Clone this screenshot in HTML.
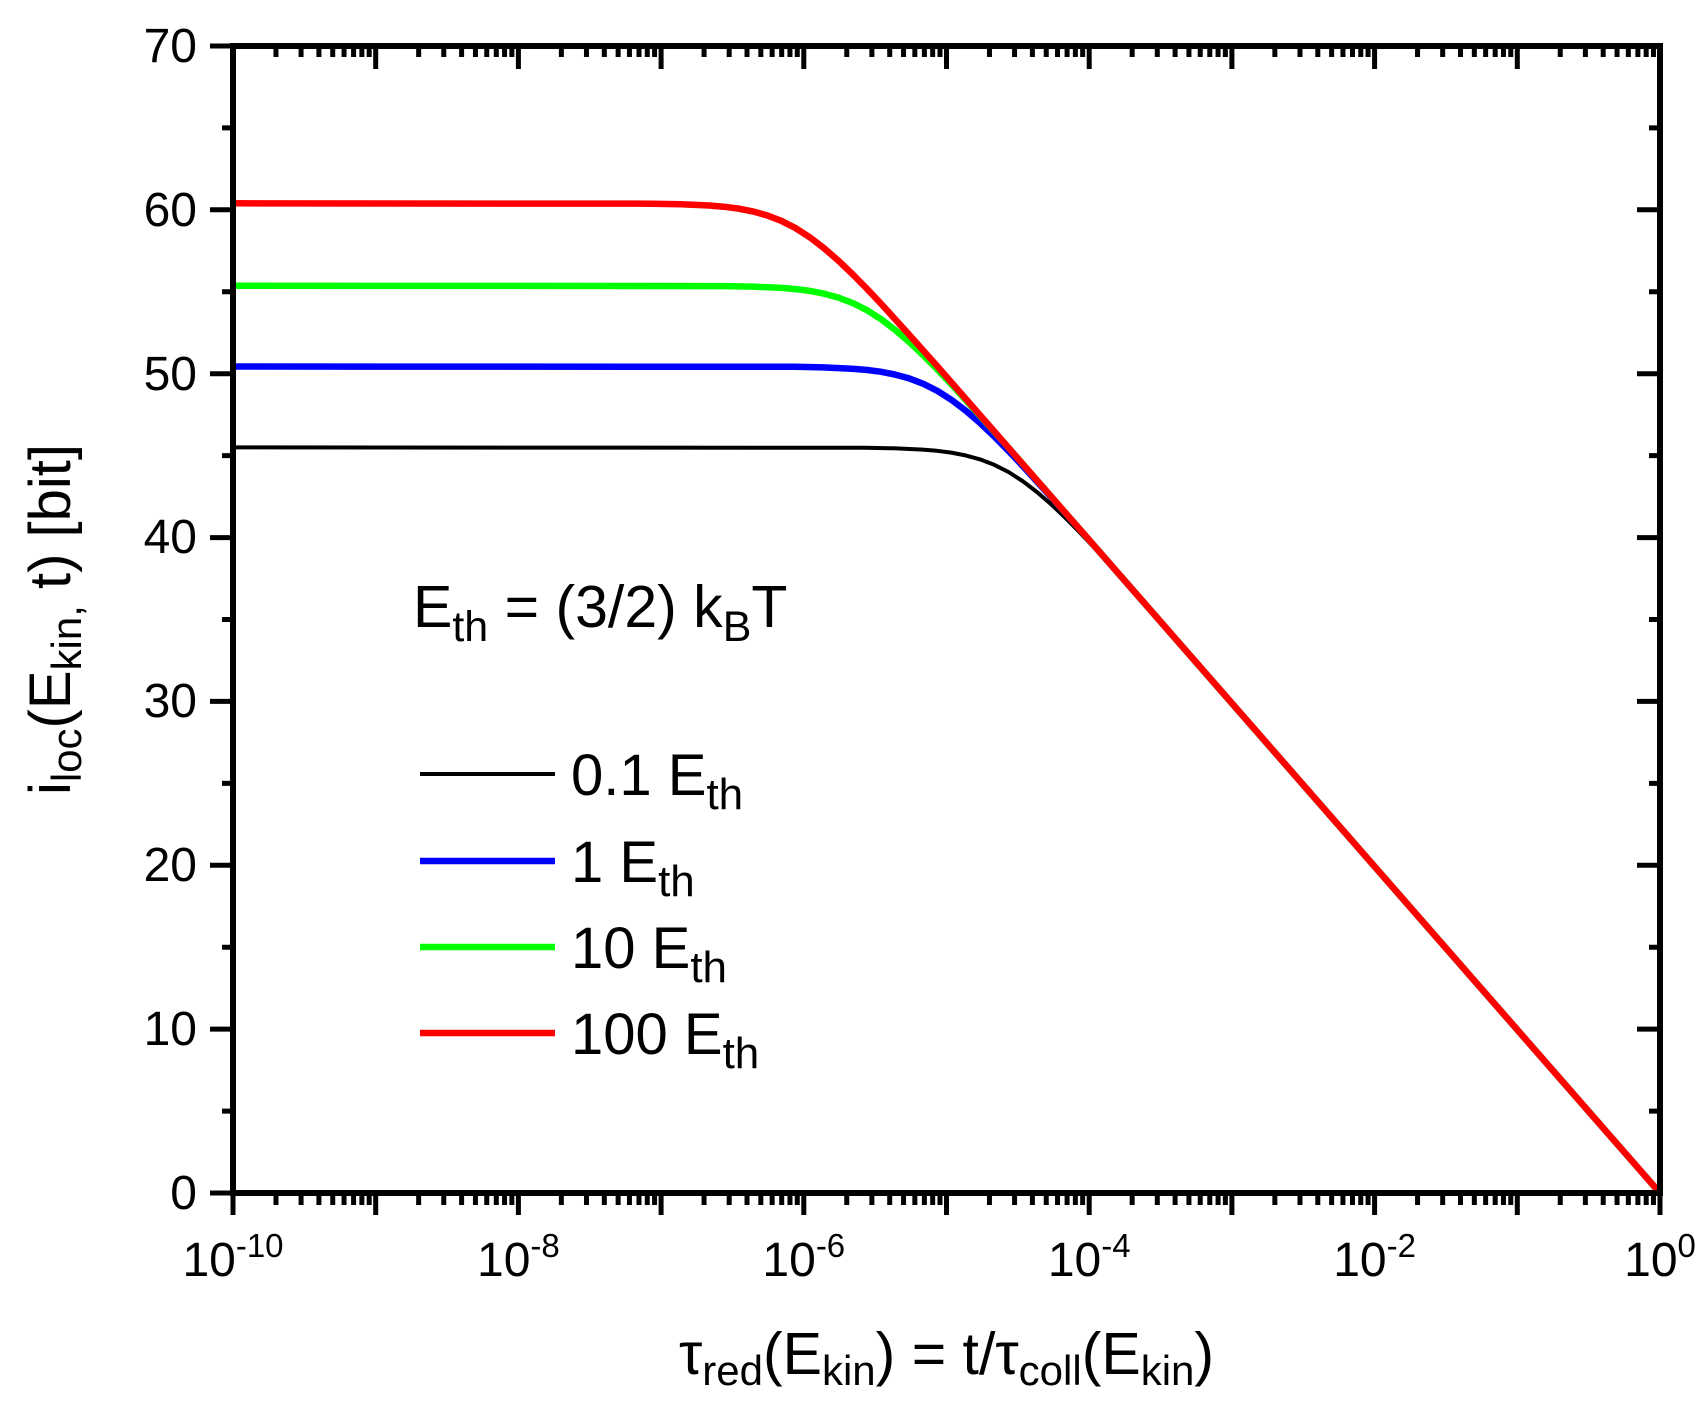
<!DOCTYPE html>
<html>
<head>
<meta charset="utf-8">
<style>
  html, body { margin: 0; padding: 0; background: #fff; }
  svg { display: block; }
  text { font-family: "Liberation Sans", Arial, sans-serif; fill: #000; }
</style>
</head>
<body>
<svg width="1706" height="1408" viewBox="0 0 1706 1408" xmlns="http://www.w3.org/2000/svg">
  <defs>
    <g id="minB" stroke="#000" stroke-width="5">
      <path d="M42.96,1193V1205M68.08,1193V1205M85.91,1193V1205M99.74,1193V1205M111.04,1193V1205M120.59,1193V1205M128.87,1193V1205M136.17,1193V1205"/>
    </g>
    <g id="minT" stroke="#000" stroke-width="5">
      <path d="M42.96,46V57M68.08,46V57M85.91,46V57M99.74,46V57M111.04,46V57M120.59,46V57M128.87,46V57M136.17,46V57"/>
    </g>
  </defs>

  <!-- curves -->
  <g fill="none" stroke-linejoin="round" stroke-linecap="butt">
    <polyline stroke="#000" stroke-width="4" points="233,447.4 865.3,447.8 893.9,448.3 922.6,449.6 936.9,450.8 951.2,452.6 965.5,455.4 979.8,459.3 994.2,464.8 1008.5,472.0 1022.8,481.2 1037.1,492.1 1051.4,504.5 1065.8,518.2 1080.1,532.7 1094.4,547.9 1123.0,579.4 1151.7,611.6 1660,1193"/>
    <polyline stroke="#0000ff" stroke-width="6.5" points="233,366.5 794.6,366.8 823.2,367.4 851.9,368.7 866.2,369.9 880.5,371.7 894.8,374.5 909.1,378.4 923.5,383.9 937.8,391.1 952.1,400.3 966.4,411.2 980.7,423.6 995.1,437.3 1009.4,451.8 1023.7,467.0 1052.3,498.5 1081.0,530.7 1660,1193"/>
    <polyline stroke="#00ff00" stroke-width="6.5" points="233,285.7 724.0,286.1 752.6,286.6 781.3,287.9 795.6,289.1 809.9,290.9 824.2,293.7 838.5,297.6 852.9,303.1 867.2,310.3 881.5,319.5 895.8,330.4 910.1,342.8 924.5,356.5 938.8,371.0 953.1,386.2 981.7,417.7 1010.4,449.9 1660,1193"/>
    <polyline stroke="#ff0000" stroke-width="6.5" points="233,203.3 652.0,203.7 680.6,204.2 709.3,205.5 723.6,206.7 737.9,208.5 752.2,211.3 766.5,215.2 780.9,220.7 795.2,227.9 809.5,237.1 823.8,248.0 838.1,260.4 852.5,274.1 866.8,288.6 881.1,303.8 909.7,335.3 938.4,367.5 1660,1193"/>
  </g>

  <!-- frame -->
  <rect x="233" y="46" width="1427" height="1147" fill="none" stroke="#000" stroke-width="6"/>

  <!-- x major ticks bottom (outward) and top (inward) -->
  <path stroke="#000" stroke-width="5" d="
    M233,1193V1215 M375.7,1193V1215 M518.4,1193V1215 M661.1,1193V1215 M803.8,1193V1215 M946.5,1193V1215 M1089.2,1193V1215 M1231.9,1193V1215 M1374.6,1193V1215 M1517.3,1193V1215 M1660,1193V1215
    M375.7,46V69 M518.4,46V69 M661.1,46V69 M803.8,46V69 M946.5,46V69 M1089.2,46V69 M1231.9,46V69 M1374.6,46V69 M1517.3,46V69"/>
  <!-- x minor ticks -->
  <use href="#minB" x="233"/><use href="#minB" x="375.7"/><use href="#minB" x="518.4"/><use href="#minB" x="661.1"/><use href="#minB" x="803.8"/>
  <use href="#minB" x="946.5"/><use href="#minB" x="1089.2"/><use href="#minB" x="1231.9"/><use href="#minB" x="1374.6"/><use href="#minB" x="1517.3"/>
  <use href="#minT" x="233"/><use href="#minT" x="375.7"/><use href="#minT" x="518.4"/><use href="#minT" x="661.1"/><use href="#minT" x="803.8"/>
  <use href="#minT" x="946.5"/><use href="#minT" x="1089.2"/><use href="#minT" x="1231.9"/><use href="#minT" x="1374.6"/><use href="#minT" x="1517.3"/>

  <!-- y ticks left (outward) and right (inward) -->
  <path stroke="#000" stroke-width="5" d="
    M210,1193H233 M210,1029.1H233 M210,865.3H233 M210,701.4H233 M210,537.6H233 M210,373.7H233 M210,209.8H233 M210,46H233
    M222,1111.1H233 M222,947.2H233 M222,783.4H233 M222,619.5H233 M222,455.6H233 M222,291.8H233 M222,127.9H233
    M1637,1029.1H1660 M1637,865.3H1660 M1637,701.4H1660 M1637,537.6H1660 M1637,373.7H1660 M1637,209.8H1660
    M1649,1111.1H1660 M1649,947.2H1660 M1649,783.4H1660 M1649,619.5H1660 M1649,455.6H1660 M1649,291.8H1660 M1649,127.9H1660"/>

  <!-- y tick labels -->
  <g font-size="48" text-anchor="end">
    <text x="197" y="1209">0</text>
    <text x="197" y="1045">10</text>
    <text x="197" y="881">20</text>
    <text x="197" y="717">30</text>
    <text x="197" y="553">40</text>
    <text x="197" y="390">50</text>
    <text x="197" y="226">60</text>
    <text x="197" y="62">70</text>
  </g>

  <!-- x tick labels -->
  <g font-size="48" text-anchor="middle">
    <text x="233" y="1276">10<tspan font-size="33" dy="-19">-10</tspan></text>
    <text x="518.4" y="1276">10<tspan font-size="33" dy="-19">-8</tspan></text>
    <text x="803.8" y="1276">10<tspan font-size="33" dy="-19">-6</tspan></text>
    <text x="1089.2" y="1276">10<tspan font-size="33" dy="-19">-4</tspan></text>
    <text x="1374.6" y="1276">10<tspan font-size="33" dy="-19">-2</tspan></text>
    <text x="1660" y="1276">10<tspan font-size="33" dy="-19">0</tspan></text>
  </g>

  <!-- x title -->
  <text x="946.5" y="1374" font-size="59" text-anchor="middle">τ<tspan font-size="42" dy="11">red</tspan><tspan dy="-11">(E</tspan><tspan font-size="42" dy="11">kin</tspan><tspan dy="-11">) = t/τ</tspan><tspan font-size="42" dy="11">coll</tspan><tspan dy="-11">(E</tspan><tspan font-size="42" dy="11">kin</tspan><tspan dy="-11">)</tspan></text>

  <!-- y title -->
  <text transform="translate(70,619.5) rotate(-90)" x="0" y="0" font-size="58" text-anchor="middle">i<tspan font-size="42" dy="11">loc</tspan><tspan dy="-11">(E</tspan><tspan font-size="42" dy="11">kin,</tspan><tspan dy="-11"> t) [bit]</tspan></text>

  <!-- annotation -->
  <text x="413" y="627" font-size="59">E<tspan font-size="43" dy="14">th</tspan><tspan dy="-14"> = (3/2) k</tspan><tspan font-size="43" dy="14">B</tspan><tspan dy="-14">T</tspan></text>

  <!-- legend -->
  <line x1="420" y1="774" x2="555" y2="774" stroke="#000" stroke-width="4"/>
  <line x1="420" y1="861" x2="555" y2="861" stroke="#0000ff" stroke-width="6.5"/>
  <line x1="420" y1="947" x2="555" y2="947" stroke="#00ff00" stroke-width="6.5"/>
  <line x1="420" y1="1033" x2="555" y2="1033" stroke="#ff0000" stroke-width="6.5"/>
  <g font-size="58">
    <text x="571" y="795">0.1 E<tspan font-size="44" dy="14">th</tspan></text>
    <text x="571" y="882">1 E<tspan font-size="44" dy="14">th</tspan></text>
    <text x="571" y="968">10 E<tspan font-size="44" dy="14">th</tspan></text>
    <text x="571" y="1054">100 E<tspan font-size="44" dy="14">th</tspan></text>
  </g>
</svg>
</body>
</html>
